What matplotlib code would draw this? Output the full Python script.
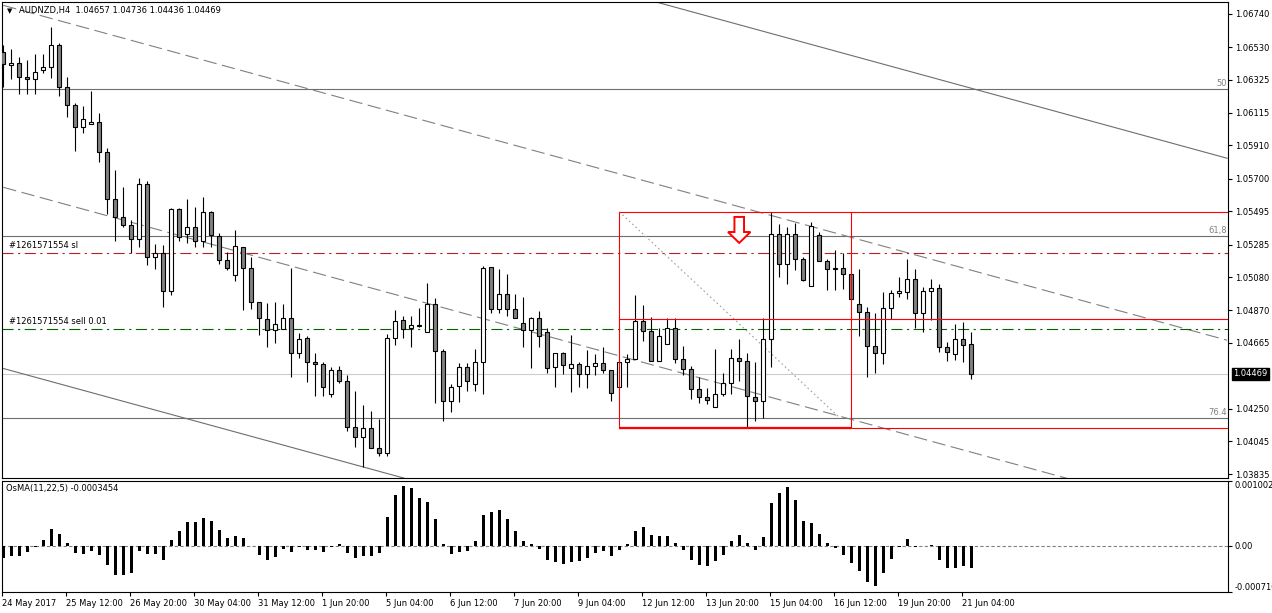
import matplotlib
matplotlib.use("Agg")
import matplotlib.pyplot as plt
from matplotlib.patches import Polygon
import numpy as np

plt.rcParams['font.family'] = ['DejaVu Sans']
plt.rcParams['font.size'] = 6

W, H = 1272, 613

# AUDNZD H4 candles, oldest to newest
opens = [1.06500, 1.06416, 1.06429, 1.06342, 1.06328, 1.06386, 1.06403, 1.06542, 1.06277, 1.06164,
         1.06025, 1.06044, 1.06056, 1.05867, 1.05570, 1.05457, 1.05406, 1.05318, 1.05665, 1.05204,
         1.05230, 1.04990, 1.05507, 1.05350, 1.05394, 1.05305, 1.05488, 1.05337, 1.05185, 1.05091,
         1.05268, 1.05135, 1.04920, 1.04813, 1.04744, 1.04750, 1.04819, 1.04599, 1.04693, 1.04542,
         1.04529, 1.04340, 1.04491, 1.04422, 1.04136, 1.04069, 1.04125, 1.03999, 1.03968, 1.04693,
         1.04807, 1.04756, 1.04769, 1.04731, 1.04908, 1.04611, 1.04296, 1.04390, 1.04510, 1.04403,
         1.04542, 1.05141, 1.04876, 1.04970, 1.04876, 1.04788, 1.04746, 1.04819, 1.04731, 1.04510,
         1.04599, 1.04504, 1.04529, 1.04468, 1.04519, 1.04536, 1.04491, 1.04384, 1.04542, 1.04561,
         1.04801, 1.04739, 1.04552, 1.04657, 1.04756, 1.04561, 1.04498, 1.04372, 1.04321, 1.04258,
         1.04340, 1.04409, 1.04567, 1.04552, 1.04325, 1.04296, 1.04687, 1.05350, 1.05160, 1.05350,
         1.05192, 1.05021, 1.05345, 1.05179, 1.05135, 1.05135, 1.05097, 1.04908, 1.04857, 1.04647,
         1.04602, 1.04883, 1.04977, 1.04984, 1.05066, 1.04851, 1.04990, 1.05009, 1.04636, 1.04592,
         1.04687, 1.04657]
highs = [1.06544, 1.06519, 1.06468, 1.06449, 1.06487, 1.06487, 1.06658, 1.06557, 1.06340, 1.06176,
         1.06159, 1.06252, 1.06113, 1.05892, 1.05755, 1.05646, 1.05440, 1.05703, 1.05688, 1.05288,
         1.05282, 1.05514, 1.05514, 1.05570, 1.05520, 1.05583, 1.05495, 1.05356, 1.05236, 1.05375,
         1.05271, 1.05208, 1.04924, 1.04914, 1.04924, 1.04910, 1.05135, 1.04725, 1.04708, 1.04599,
         1.04542, 1.04512, 1.04519, 1.04460, 1.04359, 1.04272, 1.04233, 1.04186, 1.04719, 1.04872,
         1.04832, 1.04832, 1.04883, 1.05044, 1.04946, 1.04626, 1.04405, 1.04539, 1.04539, 1.04626,
         1.05150, 1.05145, 1.05131, 1.05099, 1.04973, 1.04952, 1.04830, 1.04866, 1.04756, 1.04602,
         1.04609, 1.04714, 1.04542, 1.04619, 1.04594, 1.04640, 1.04491, 1.04542, 1.04594, 1.04967,
         1.04903, 1.04830, 1.04756, 1.04819, 1.04819, 1.04647, 1.04519, 1.04447, 1.04378, 1.04626,
         1.04472, 1.04626, 1.04687, 1.04599, 1.04542, 1.04819, 1.05492, 1.05413, 1.05398, 1.05423,
         1.05204, 1.05427, 1.05366, 1.05192, 1.05250, 1.05233, 1.05097, 1.05129, 1.04893, 1.04851,
         1.04984, 1.04998, 1.05078, 1.05192, 1.05129, 1.05015, 1.05066, 1.05034, 1.04668, 1.04784,
         1.04794, 1.04736]
lows = [1.06279, 1.06330, 1.06235, 1.06235, 1.06235, 1.06367, 1.06336, 1.06224, 1.06092, 1.05877,
        1.05987, 1.06044, 1.05804, 1.05478, 1.05309, 1.05394, 1.05230, 1.05271, 1.05156, 1.05129,
        1.04889, 1.04965, 1.05309, 1.05297, 1.05268, 1.05268, 1.05268, 1.05160, 1.05122, 1.05053,
        1.04872, 1.04878, 1.04714, 1.04636, 1.04662, 1.04750, 1.04451, 1.04571, 1.04419, 1.04331,
        1.04331, 1.04325, 1.04409, 1.04110, 1.04009, 1.03879, 1.03999, 1.03953, 1.03953, 1.04653,
        1.04693, 1.04636, 1.04767, 1.04731, 1.04283, 1.04170, 1.04230, 1.04289, 1.04361, 1.04361,
        1.04340, 1.04851, 1.04855, 1.04834, 1.04819, 1.04640, 1.04508, 1.04640, 1.04472, 1.04388,
        1.04468, 1.04356, 1.04388, 1.04378, 1.04462, 1.04472, 1.04300, 1.04384, 1.04388, 1.04561,
        1.04676, 1.04552, 1.04552, 1.04657, 1.04536, 1.04462, 1.04313, 1.04287, 1.04279, 1.04258,
        1.04329, 1.04342, 1.04426, 1.04129, 1.04173, 1.04188, 1.04510, 1.05082, 1.05034, 1.05124,
        1.05055, 1.05021, 1.05179, 1.04996, 1.04996, 1.05002, 1.04939, 1.04708, 1.04451, 1.04472,
        1.04529, 1.04813, 1.04956, 1.04939, 1.04760, 1.04735, 1.04809, 1.04609, 1.04552, 1.04556,
        1.04546, 1.04436]
closes = [1.06424, 1.06429, 1.06340, 1.06328, 1.06372, 1.06403, 1.06542, 1.06277, 1.06164, 1.06025,
          1.06075, 1.06058, 1.05867, 1.05570, 1.05457, 1.05406, 1.05318, 1.05665, 1.05204, 1.05230,
          1.04990, 1.05507, 1.05331, 1.05394, 1.05305, 1.05488, 1.05343, 1.05185, 1.05135, 1.05274,
          1.05135, 1.04920, 1.04819, 1.04744, 1.04782, 1.04819, 1.04599, 1.04687, 1.04542, 1.04529,
          1.04384, 1.04491, 1.04422, 1.04136, 1.04069, 1.04125, 1.03999, 1.03968, 1.04693, 1.04801,
          1.04754, 1.04775, 1.04775, 1.04908, 1.04611, 1.04296, 1.04384, 1.04510, 1.04422, 1.04542,
          1.05135, 1.04876, 1.04970, 1.04876, 1.04819, 1.04746, 1.04819, 1.04708, 1.04504, 1.04599,
          1.04525, 1.04529, 1.04468, 1.04519, 1.04536, 1.04493, 1.04346, 1.04542, 1.04561, 1.04801,
          1.04739, 1.04552, 1.04708, 1.04756, 1.04561, 1.04500, 1.04372, 1.04321, 1.04304, 1.04340,
          1.04409, 1.04567, 1.04552, 1.04329, 1.04300, 1.04687, 1.05350, 1.05160, 1.05350, 1.05192,
          1.05061, 1.05402, 1.05179, 1.05129, 1.05129, 1.05097, 1.04939, 1.04857, 1.04647, 1.04602,
          1.04883, 1.04977, 1.04990, 1.05066, 1.04851, 1.04990, 1.05009, 1.04636, 1.04605, 1.04687,
          1.04649, 1.04469]

# OsMA(11,22,5) histogram
osma = [-0.000185, -0.000160, -0.000150, -0.000100, -0.000010, 0.000098, 0.000267, 0.000190, 0.000050, -0.000108,
        -0.000123, -0.000082, -0.000134, -0.000298, -0.000442, -0.000452, -0.000421, -0.000082, -0.000123, -0.000123,
        -0.000221, 0.000098, 0.000236, 0.000365, 0.000365, 0.000432, 0.000380, 0.000252, 0.000123, 0.000160,
        0.000129, 0.000005, -0.000134, -0.000221, -0.000175, -0.000041, -0.000098, -0.000015, -0.000062, -0.000062,
        -0.000098, -0.000015, 0.000031, -0.000108, -0.000190, -0.000160, -0.000160, -0.000108, 0.000442, 0.000792,
        0.000920, 0.000900, 0.000745, 0.000684, 0.000421, 0.000036, -0.000129, -0.000093, -0.000082, 0.000072,
        0.000483, 0.000524, 0.000560, 0.000421, 0.000226, 0.000072, 0.000026, -0.000046, -0.000221, -0.000247,
        -0.000278, -0.000242, -0.000236, -0.000185, -0.000108, -0.000082, -0.000160, -0.000067, 0.000036, 0.000236,
        0.000298, 0.000175, 0.000160, 0.000160, 0.000051, -0.000067, -0.000211, -0.000298, -0.000314, -0.000236,
        -0.000134, 0.000082, 0.000175, 0.000051, -0.000057, 0.000139, 0.000668, 0.000822, 0.000915, 0.000714,
        0.000390, 0.000360, 0.000190, 0.000051, -0.000036, -0.000144, -0.000267, -0.000390, -0.000560, -0.000622,
        -0.000421, -0.000195, -0.000021, 0.000113, -0.000015, 0.000005, 0.000010, -0.000221, -0.000344, -0.000344,
        -0.000314, -0.0003454]

time_labels = ["24 May 2017", "25 May 12:00", "26 May 20:00", "30 May 04:00", "31 May 12:00",
               "1 Jun 20:00", "5 Jun 04:00", "6 Jun 12:00", "7 Jun 20:00", "9 Jun 04:00",
               "12 Jun 12:00", "13 Jun 20:00", "15 Jun 04:00", "16 Jun 12:00", "19 Jun 20:00",
               "21 Jun 04:00"]
price_ticks = [1.06740, 1.06530, 1.06325, 1.06115, 1.05910, 1.05700, 1.05495, 1.05285,
               1.05080, 1.04870, 1.04665, 1.04250, 1.04045, 1.03835]

# objects on the chart
channel_bars = [0, 153]
channel_top = [1.07942, 1.05829]
channel_mid1 = [1.06794, 1.04681]
channel_mid2 = [1.05646, 1.03533]
channel_bottom = [1.04503, 1.02390]
fib_levels = [1.06266, 1.05339, 1.04190]
fib_names = ["50", "61,8", "76.4"]
fib_trend_bars = [77, 104.6]
fib_trend_prices = [1.05492, 1.04190]
box_bars = [77, 106]
box_high, box_mid, box_low = 1.05490, 1.04815, 1.04127
sl_price = 1.05232
sell_price = 1.04752
bid = 1.04469
arrow_bar, arrow_top, arrow_neck, arrow_tip = 92, 1.05459, 1.05364, 1.05295

xmin, xmax = -0.16, 153.1

fig = plt.figure(figsize=(W / 100, H / 100), dpi=100)
ax = fig.add_axes([2 / W, (H - 478) / H, 1226 / W, 476 / H])
ax2 = fig.add_axes([2 / W, (H - 592) / H, 1226 / W, 111 / H])

bars = np.arange(len(closes))
o = np.array(opens)
c = np.array(closes)
up = c >= o

# background objects
for lvl in fib_levels:
    ax.axhline(lvl, color='#6e6e6e', lw=0.8, zorder=1)
for lvl, name in zip(fib_levels, fib_names):
    ax.annotate(name, xy=(0.999, lvl), xycoords=('axes fraction', 'data'), xytext=(0, 1),
                textcoords='offset points', ha='right', va='bottom', color='#808080', fontsize=6)
ax.axhline(bid, color='#cccccc', lw=0.8, zorder=1)

dash = (0, (12, 5))
ax.plot(channel_bars, channel_top, color='#6e6e6e', lw=0.8, zorder=1)
ax.plot(channel_bars, channel_bottom, color='#6e6e6e', lw=0.8, zorder=1)
ax.plot(channel_bars, channel_mid1, color='#808080', lw=0.8, ls=dash, zorder=1)
ax.plot(channel_bars, channel_mid2, color='#808080', lw=0.8, ls=dash, zorder=1)
ax.plot(fib_trend_bars, fib_trend_prices, color='#a0a0a0', lw=0.8, ls=(0, (1.5, 2.5)), zorder=1)

ax.hlines(sl_price, xmin, xmax, color='#b22222', lw=0.8, ls=(0, (10, 4, 2, 4)), zorder=2)
ax.hlines(sell_price, xmin, xmax, color='#006400', lw=0.8, ls=(0, (10, 4, 2, 4)), zorder=2)
ax.annotate("#1261571554 sl", xy=(0.006, sl_price), xycoords=('axes fraction', 'data'),
            xytext=(0, 2), textcoords='offset points', va='bottom', fontsize=6)
ax.annotate("#1261571554 sell 0.01", xy=(0.006, sell_price), xycoords=('axes fraction', 'data'),
            xytext=(0, 2), textcoords='offset points', va='bottom', fontsize=6)

# candles
ax.vlines(bars, lows, highs, color='black', lw=0.8, zorder=3)
body_lo = np.minimum(o, c)
body_h = np.maximum(np.abs(c - o), 0.00002)
ax.bar(bars, body_h, bottom=body_lo, width=0.55, color=np.where(up, 'white', '#808080'),
       edgecolor='black', linewidth=0.8, zorder=4)

# red range box
for lvl in [box_high, box_mid, box_low]:
    ax.hlines(lvl, box_bars[0], xmax, color='#ff0000', lw=0.8, zorder=5)
ax.hlines(box_low, box_bars[0], box_bars[1], color='#ff0000', lw=1.6, zorder=5)
ax.vlines(box_bars, box_low, box_high, color='#ff0000', lw=0.8, zorder=5)

arrow = Polygon([(arrow_bar - 0.6, arrow_top), (arrow_bar + 0.6, arrow_top), (arrow_bar + 0.6, arrow_neck),
                 (arrow_bar + 1.4, arrow_neck), (arrow_bar, arrow_tip), (arrow_bar - 1.4, arrow_neck),
                 (arrow_bar - 0.6, arrow_neck)], closed=True, fc='white', ec='#ff0000', lw=1.4, zorder=6)
ax.add_patch(arrow)

ax.set_xlim(xmin, xmax)
ax.set_ylim(1.03812, 1.06815)
ax.set_yticks(price_ticks)
ax.set_yticklabels([f"{p:.5f}" for p in price_ticks])
ax.tick_params(axis='y', left=False, labelleft=False, right=True, labelright=True,
               direction='out', length=3, width=0.8, pad=2, labelsize=6)
ax.tick_params(axis='x', bottom=False, labelbottom=False)
ax.annotate(f"{bid:.5f}", xy=(1, bid), xycoords=('axes fraction', 'data'), xytext=(4, 0),
            textcoords='offset points', ha='left', va='center', color='white', fontsize=6,
            bbox=dict(boxstyle='square,pad=0.2', fc='black', ec='black'), annotation_clip=False)

# OsMA panel
ax2.axhline(0, color='#808080', lw=0.8, ls=(0, (3, 2)), zorder=1)
ax2.bar(bars, osma, width=0.4, color='black', zorder=3)
ax2.set_xlim(xmin, xmax)
ax2.set_ylim(-0.000710, 0.001002)
ax2.set_yticks([0.001002, 0.0, -0.000710])
ax2.set_yticklabels(["0.001002", "0.00", "-0.000710"])
ax2.tick_params(axis='y', left=False, labelleft=False, right=True, labelright=True,
                direction='out', length=3, width=0.8, pad=2, labelsize=6)
ylabs = ax2.get_yticklabels()
ylabs[0].set_va('top')
ylabs[2].set_va('bottom')
ax2.set_xticks(np.arange(len(time_labels)) * 8 - 0.16)
ax2.set_xticklabels(time_labels, ha='left')
ax2.tick_params(axis='x', direction='out', length=3, width=0.8, pad=2, labelsize=6)

for a in (ax, ax2):
    for s in a.spines.values():
        s.set_linewidth(0.8)
        s.set_color('black')

fig.text(10 / W, 1 - 11 / H, "\u25bc", fontsize=5, va='center', ha='center')
fig.text(19 / W, 1 - 11 / H, "AUDNZD,H4  1.04657 1.04736 1.04436 1.04469", fontsize=6, va='center')
fig.text(6 / W, 1 - 489 / H, "OsMA(11,22,5) -0.0003454", fontsize=6, va='center')

fig.savefig("out.png", dpi=100, facecolor='white')
